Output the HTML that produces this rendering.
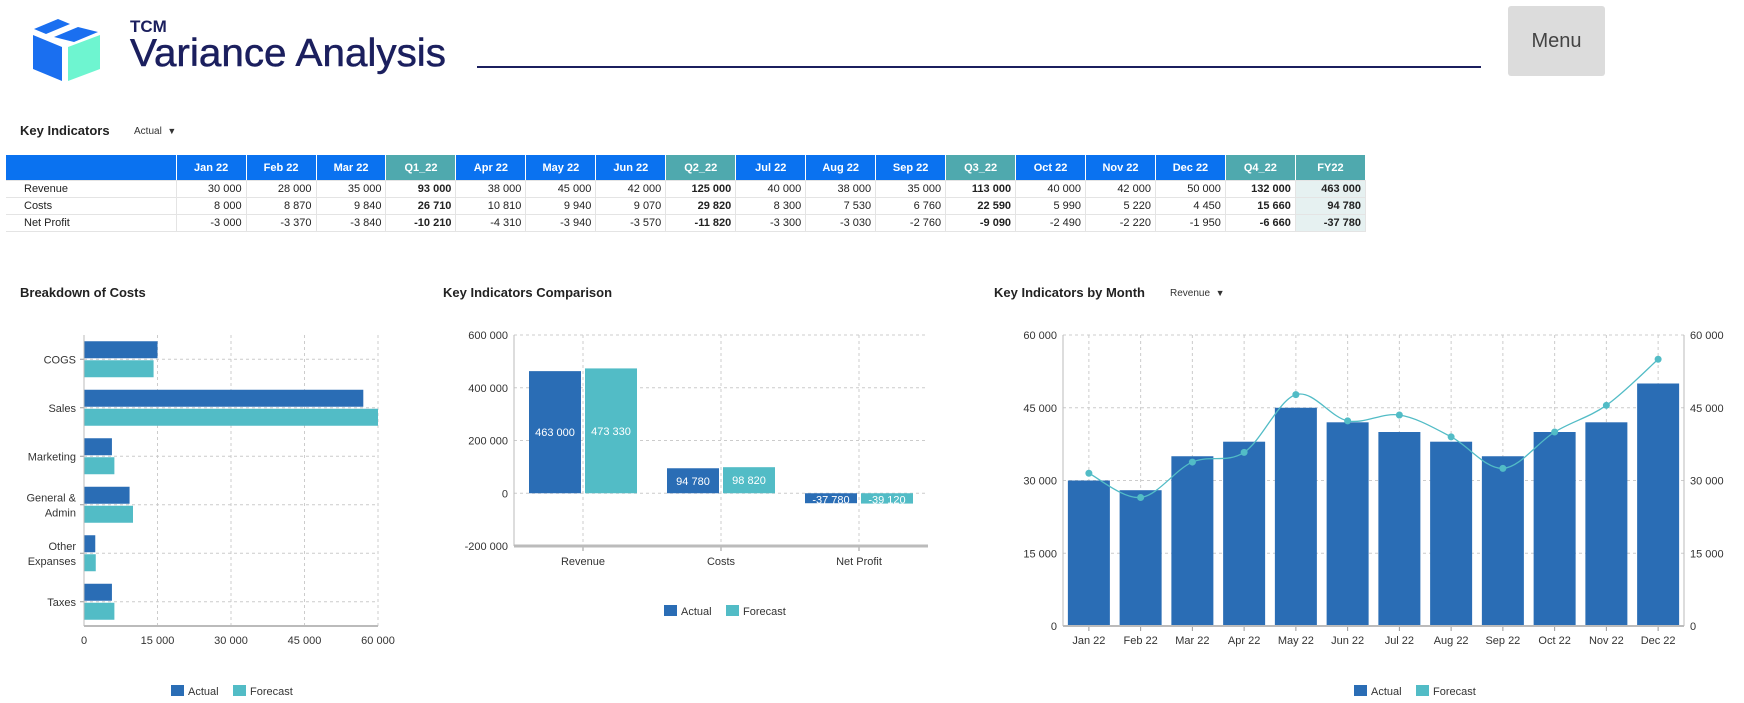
<!DOCTYPE html>
<html><head><meta charset="utf-8">
<style>
body{margin:0;width:1744px;height:703px;background:#fff;font-family:"Liberation Sans",sans-serif;overflow:hidden;position:relative}
.abs{position:absolute}
table{border-collapse:collapse;font-size:11px;color:#222;table-layout:fixed}
td,th{padding:0 4px;height:16px;text-align:right;border-right:1px solid #e4e4e4;border-bottom:1px solid #e4e4e4;overflow:hidden;white-space:nowrap}
th{background:#0a72f0;color:#fff;height:25px;text-align:center;font-weight:bold;border-right:1px solid #fff}
th.q{background:#4fa9ae}
td.l{text-align:left;padding-left:18px}
td.b{font-weight:bold}
td.fy{background:#e6f1f1;font-weight:bold}
.title{font-weight:bold;font-size:13px;color:#222}
</style></head><body>
<svg class="abs" style="left:30px;top:15px" width="72" height="68" viewBox="0 0 72 68">
<polygon points="3,20 32,32 32,66 3,54" fill="#1a6ff0"/>
<polygon points="38,32 70,20 70,54 38,66" fill="#6ef5d0"/>
<polygon points="4,14 28,4 40,9 16,19" fill="#1a6ff0"/>
<polygon points="24,22 48,12 68,17 44,27" fill="#1a6ff0"/>
</svg>
<div class="abs" style="left:130px;top:17px;font-size:17px;font-weight:bold;color:#1b1f5e">TCM</div>
<svg class="abs" style="left:128px;top:30px" width="330" height="45"><text x="2" y="36" font-size="39" fill="#1b1f5e" stroke="#1b1f5e" stroke-width="0.5" textLength="316" lengthAdjust="spacingAndGlyphs" font-family="Liberation Sans, sans-serif">Variance Analysis</text></svg>
<div class="abs" style="left:477px;top:66px;width:1004px;height:2px;background:#1b1f5e"></div>
<div class="abs" style="left:1508px;top:6px;width:97px;height:70px;background:#dcdcdc;border-radius:3px;color:#444;font-size:20px;line-height:70px;text-align:center">Menu</div>
<div class="abs title" style="left:20px;top:123px">Key Indicators</div>
<div class="abs" style="left:134px;top:126px;font-size:10px;color:#333">Actual &nbsp;<span style="font-size:9px">▼</span></div>
<table class="abs" style="left:6px;top:155px;width:1360px">
<colgroup><col style="width:169px"><col span="17" style="width:69.5px"></colgroup>
<tr><th></th><th>Jan 22</th><th>Feb 22</th><th>Mar 22</th><th class="q">Q1_22</th><th>Apr 22</th><th>May 22</th><th>Jun 22</th><th class="q">Q2_22</th><th>Jul 22</th><th>Aug 22</th><th>Sep 22</th><th class="q">Q3_22</th><th>Oct 22</th><th>Nov 22</th><th>Dec 22</th><th class="q">Q4_22</th><th class="q">FY22</th></tr>
<tr><td class="l">Revenue</td><td>30 000</td><td>28 000</td><td>35 000</td><td class="b">93 000</td><td>38 000</td><td>45 000</td><td>42 000</td><td class="b">125 000</td><td>40 000</td><td>38 000</td><td>35 000</td><td class="b">113 000</td><td>40 000</td><td>42 000</td><td>50 000</td><td class="b">132 000</td><td class="fy">463 000</td></tr>
<tr><td class="l">Costs</td><td>8 000</td><td>8 870</td><td>9 840</td><td class="b">26 710</td><td>10 810</td><td>9 940</td><td>9 070</td><td class="b">29 820</td><td>8 300</td><td>7 530</td><td>6 760</td><td class="b">22 590</td><td>5 990</td><td>5 220</td><td>4 450</td><td class="b">15 660</td><td class="fy">94 780</td></tr>
<tr><td class="l">Net Profit</td><td>-3 000</td><td>-3 370</td><td>-3 840</td><td class="b">-10 210</td><td>-4 310</td><td>-3 940</td><td>-3 570</td><td class="b">-11 820</td><td>-3 300</td><td>-3 030</td><td>-2 760</td><td class="b">-9 090</td><td>-2 490</td><td>-2 220</td><td>-1 950</td><td class="b">-6 660</td><td class="fy">-37 780</td></tr>
</table>
<div class="abs title" style="left:20px;top:285px">Breakdown of Costs</div>
<div class="abs title" style="left:443px;top:285px">Key Indicators Comparison</div>
<div class="abs title" style="left:994px;top:285px">Key Indicators by Month</div>
<div class="abs" style="left:1170px;top:288px;font-size:10px;color:#333">Revenue &nbsp;<span style="font-size:9px">▼</span></div>
<svg id="ch" class="abs" style="left:0;top:0" width="1744" height="703" font-family="Liberation Sans, sans-serif" font-size="11" fill="#333"></svg>
<script>
const costCats=["COGS","Sales","Marketing","General &|Admin","Other|Expanses","Taxes"];
const costActual=[15000,57000,5700,9300,2300,5700];
const costForecast=[14200,60000,6200,10000,2400,6200];
const costTicks=[0,15000,30000,45000,60000];
const kiCats=["Revenue","Costs","Net Profit"];
const kiActual=[463000,94780,-37780];
const kiForecast=[473330,98820,-39120];
const kiTicks=[600000,400000,200000,0,-200000];
const months=["Jan 22","Feb 22","Mar 22","Apr 22","May 22","Jun 22","Jul 22","Aug 22","Sep 22","Oct 22","Nov 22","Dec 22"];
const monthActual=[30000,28000,35000,38000,45000,42000,40000,38000,35000,40000,42000,50000];
const monthForecast=[31500,26500,33800,35800,47700,42300,43500,39000,32500,40000,45500,55000];
const monthTicks=[0,15000,30000,45000,60000];
const A="#2a6db5",F="#52bcc6";
const svg=document.getElementById('ch');const NS="http://www.w3.org/2000/svg";
function el(t,a,txt){const e=document.createElementNS(NS,t);for(const k in a)e.setAttribute(k,a[k]);if(txt!=null)e.textContent=txt;svg.appendChild(e);return e;}
const fmt=v=>(v<0?"-":"")+Math.abs(v).toString().replace(/\B(?=(\d{3})+(?!\d))/g," ");
function legend(cx,y){
 let r=el('rect',{x:cx-60,y:y-6,width:13,height:11,fill:A});
 let t=el('text',{x:cx-43,y:y+4},'Actual');
 r=el('rect',{x:cx+2,y:y-6,width:13,height:11,fill:F});
 t=el('text',{x:cx+19,y:y+4},'Forecast');
}
// Breakdown
{const x0=84,x1=378,y0=335,y1=626;const sx=v=>x0+(v/60000)*(x1-x0);const band=(y1-y0)/costCats.length;
costTicks.forEach(t=>{const g=el('line',{x1:sx(t),x2:sx(t),y1:y0,y2:y1,stroke:"#ccc","stroke-dasharray":"3,3"});
 const l=el('text',{x:sx(t),y:y1+18,"text-anchor":"middle"},fmt(t));});
costCats.forEach((c,i)=>{const yc=y0+band*(i+0.5);
 const g=el('line',{x1:x0,x2:x1,y1:yc,y2:yc,stroke:"#ccc","stroke-dasharray":"3,3"});
 let b=el('rect',{x:x0,y:yc-18,width:sx(costActual[i])-x0,height:17,fill:A});
 b=el('rect',{x:x0,y:yc+1,width:sx(costForecast[i])-x0,height:17,fill:F});
 const parts=c.split('|');parts.forEach((p,j)=>{const t=el('text',{x:x0-8,y:yc+4+(j-(parts.length-1)/2)*15,"text-anchor":"end"},p);});
 el('line',{x1:x0-4,x2:x0,y1:yc,y2:yc,stroke:"#999"});});
const ax=el('line',{x1:x0,x2:x0,y1:y0,y2:y1,stroke:"#bbb"});
const bx=el('line',{x1:x0,x2:x1,y1:y1,y2:y1,stroke:"#bbb","stroke-width":2});
legend(231,691);}
// Comparison
{const x0=514,x1=928,y0=335,y1=546;const sy=v=>y0+(600000-v)/800000*(y1-y0);const band=(x1-x0)/kiCats.length;
kiTicks.forEach(t=>{const g=el('line',{x1:x0,x2:x1,y1:sy(t),y2:sy(t),stroke:"#ccc","stroke-dasharray":"3,3"});
 const l=el('text',{x:x0-6,y:sy(t)+4,"text-anchor":"end"},fmt(t));});
kiCats.forEach((c,i)=>{const xc=x0+band*(i+0.5);
 el('line',{x1:xc,x2:xc,y1:y0,y2:y1,stroke:"#ccc","stroke-dasharray":"3,3"});
 [[kiActual[i],A,xc-54,'bar-actual'],[kiForecast[i],F,xc+2,'bar-forecast']].forEach(([v,col,x,n])=>{
  const top=Math.min(sy(v),sy(0)),h=Math.abs(sy(v)-sy(0));
  const b=el('rect',{x:x,y:top,width:52,height:h,fill:col});
  const t=el('text',{x:x+26,y:top+Math.max(h/2,6)+4,"text-anchor":"middle",fill:"#fff"},fmt(v));});
 const l=el('text',{x:xc,y:y1+19,"text-anchor":"middle"},c);
 el('line',{x1:xc,x2:xc,y1:y1,y2:y1+5,stroke:"#999"});});
el('line',{x1:x0,x2:x0,y1:y0,y2:y1,stroke:"#bbb"});
const bx=el('line',{x1:x0,x2:x1,y1:y1,y2:y1,stroke:"#bbb","stroke-width":3});
legend(724,611);}
// By month
{const x0=1063,x1=1684,y0=335,y1=626;const sy=v=>y1-v/60000*(y1-y0);const band=(x1-x0)/months.length;
monthTicks.forEach(t=>{const g=el('line',{x1:x0,x2:x1,y1:sy(t),y2:sy(t),stroke:"#ccc","stroke-dasharray":"3,3"});
 let l=el('text',{x:x0-6,y:sy(t)+4,"text-anchor":"end"},fmt(t));
 l=el('text',{x:x1+6,y:sy(t)+4},fmt(t));});
const pts=[];
months.forEach((m,i)=>{const xc=x0+band*(i+0.5);
 el('line',{x1:xc,x2:xc,y1:y0,y2:y1,stroke:"#ccc","stroke-dasharray":"3,3"});
 const b=el('rect',{x:xc-21,y:sy(monthActual[i]),width:42,height:y1-sy(monthActual[i]),fill:A});
 const l=el('text',{x:xc,y:y1+18,"text-anchor":"middle"},m);
 el('line',{x1:xc,x2:xc,y1:y1,y2:y1+5,stroke:"#999"});
 pts.push([xc,sy(monthForecast[i])]);});
let d="M"+pts[0][0]+","+pts[0][1];
for(let i=0;i<pts.length-1;i++){const p0=pts[i-1]||pts[i],p1=pts[i],p2=pts[i+1],p3=pts[i+2]||p2;
 d+=` C${p1[0]+(p2[0]-p0[0])/6},${p1[1]+(p2[1]-p0[1])/6} ${p2[0]-(p3[0]-p1[0])/6},${p2[1]-(p3[1]-p1[1])/6} ${p2[0]},${p2[1]}`;}
const ln=el('path',{d:d,fill:"none",stroke:F,"stroke-width":1.3});
pts.forEach(p=>{const c=el('circle',{cx:p[0],cy:p[1],r:3.5,fill:F});});
el('line',{x1:x0,x2:x0,y1:y0,y2:y1,stroke:"#bbb"});el('line',{x1:x1,x2:x1,y1:y0,y2:y1,stroke:"#bbb"});
const bx=el('line',{x1:x0,x2:x1,y1:y1,y2:y1,stroke:"#bbb","stroke-width":2});
legend(1414,691);}
</script>
</body></html>
